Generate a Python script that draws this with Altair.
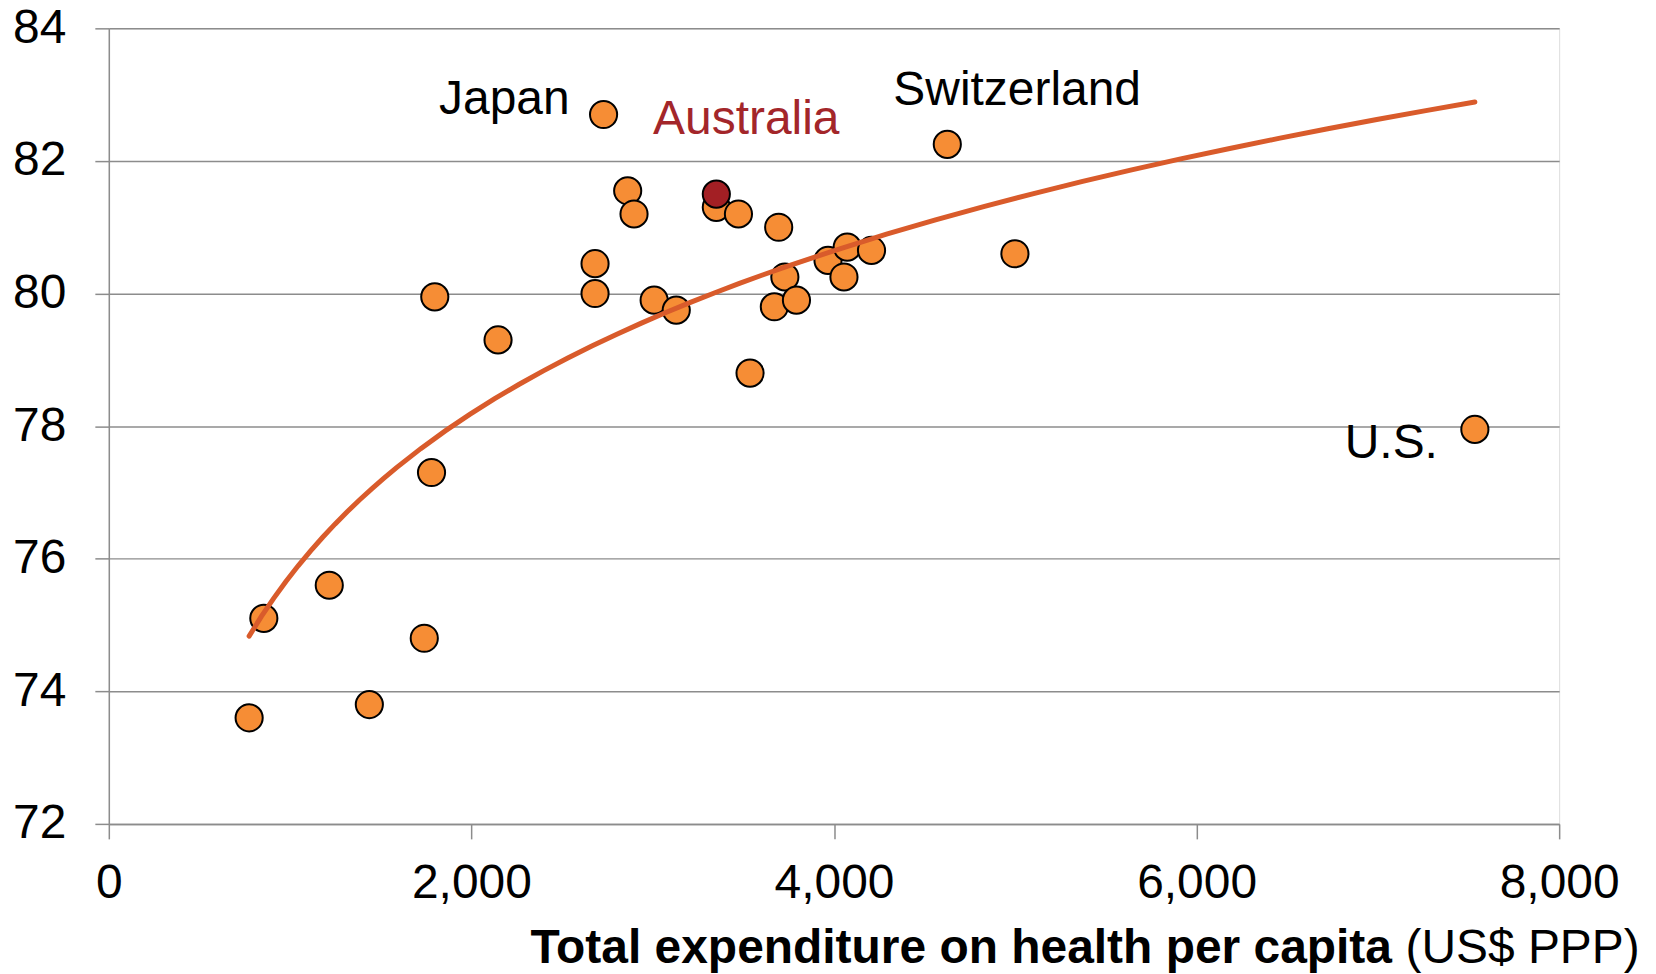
import altair as alt
import pandas as pd

# Data
spend = [774, 855, 1216, 1437, 1740, 1780, 1798, 2147, 2682, 2682, 2729, 2862, 2897, 3008,
         3130, 3351, 3473, 3537, 3695, 3671, 3729, 3793, 3967, 4073, 4055, 4207, 4625, 4998,
         7535, 3351]
life = [73.6, 75.1, 75.6, 73.8, 74.8, 77.3, 79.95, 79.3, 80.45, 80.0, 82.7, 81.55, 81.2, 79.9,
        79.75, 81.3, 81.2, 78.8, 81.0, 79.8, 80.25, 79.9, 80.5, 80.7, 80.25, 80.65, 82.25, 80.6,
        77.95, 81.5]
country = ["", "", "", "", "", "", "", "", "", "", "Japan", "", "", "",
           "", "", "", "", "", "", "", "", "", "", "", "", "Switzerland", "",
           "U.S.", "Australia"]

x_ticks = [0, 2000, 4000, 6000, 8000]
y_ticks = [72, 74, 76, 78, 80, 82, 84]

df = pd.DataFrame({"spend": spend, "life": life, "country": country})
df["order"] = range(len(df))

FONT = "Liberation Sans"
GRID = "#8c8c8c"
W, H = 1453, 797
FS = 48

x_enc = alt.X(
    "spend:Q",
    scale=alt.Scale(domain=[0, 8000], nice=False, zero=False),
    axis=alt.Axis(
        values=x_ticks, format=",d", grid=False,
        domainColor=GRID, domainWidth=1.5, tickColor=GRID, tickWidth=1.5, tickSize=15,
        labelFont=FONT, labelFontSize=FS, labelColor="black", labelPadding=21,
        labelFlush=False, labelOverlap=False,
        title="Total expenditure on health per capita", titleFont=FONT, titleFontSize=FS,
        titleFontWeight="bold", titleColor="black", titleAlign="right",
        titleBaseline="alphabetic", titleX=1285, titleY=139,
    ),
)
y_enc = alt.Y(
    "life:Q",
    scale=alt.Scale(domain=[72, 84], nice=False, zero=False),
    axis=alt.Axis(
        values=y_ticks, format="d", grid=True, gridColor=GRID, gridWidth=1.5,
        domainColor=GRID, domainWidth=1.5, tickColor=GRID, tickWidth=1.5, tickSize=14,
        labelFont=FONT, labelFontSize=FS, labelColor="black", labelPadding=29,
        labelFlush=False, labelOverlap=False, title=None,
    ),
)

base = alt.Chart(df)

points = base.mark_point(
    shape="circle", filled=True, size=740, stroke="black", strokeWidth=2, opacity=1
).encode(
    x=x_enc, y=y_enc,
    fill=alt.condition("datum.country === 'Australia'", alt.value("#a31f24"), alt.value("#f68d35")),
    order=alt.Order("order:Q"),
)

trend = base.transform_regression("spend", "life", method="log").mark_line(
    color="#d95b2b", strokeWidth=5, strokeCap="round"
).encode(x="spend:Q", y="life:Q")


def label(name, color, align, dx, dy):
    return base.transform_filter(alt.datum.country == name).mark_text(
        font=FONT, fontSize=FS, color=color, align=align, baseline="middle", dx=dx, dy=dy
    ).encode(x="spend:Q", y="life:Q", text="country:N")


labels = [
    label("Japan", "black", "right", -34, -15),
    label("Australia", "#a3262a", "center", 30, -74),
    label("Switzerland", "black", "center", 70, -53),
    label("U.S.", "black", "right", -37, 15),
]

unit = base.mark_text(
    font=FONT, fontSize=FS, color="black", align="left", baseline="alphabetic"
).encode(x=alt.value(1299), y=alt.value(H + 139), text=alt.value("(US$ PPP)")).transform_filter(
    alt.datum.order == 0
)

chart = alt.layer(points, trend, *labels, unit).properties(
    width=W, height=H,
    autosize=alt.AutoSizeParams(type="none"),
    padding={"left": 101, "top": 19.5, "right": 89, "bottom": 149},
).configure_view(stroke=None).configure(background="white")

chart.save("out.html", embed_options={"renderer": "svg", "actions": False})
